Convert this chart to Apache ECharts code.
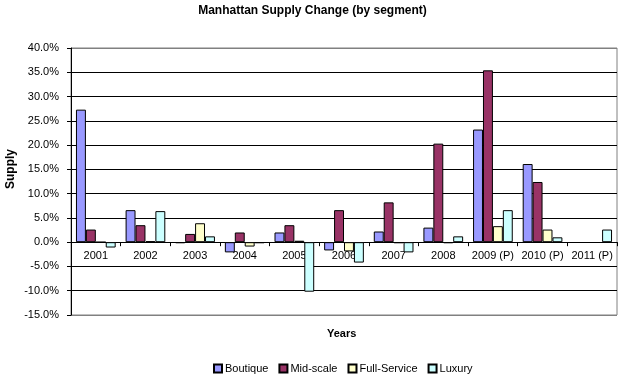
<!DOCTYPE html>
<html><head><meta charset="utf-8">
<script src="https://cdn.jsdelivr.net/npm/echarts@6/dist/echarts.min.js"></script>
<style>html,body{margin:0;padding:0;background:#fff}#c{width:625px;height:379px}</style>
</head><body><div id="c"></div>
<script>
const categories = ['2001','2002','2003','2004','2005','2006','2007','2008','2009 (P)','2010 (P)','2011 (P)'];
const boutique   = [27.3, 6.6, -0.2, -2.1, 2.0, -1.7, 2.2, 3.0, 23.2, 16.1, null];
const midScale   = [2.6, 3.5, 1.7, 2.0, 3.5, 6.6, 8.2, 20.3, 35.4, 12.4, null];
const fullService= [0.0, 0.2, 3.9, -0.9, 0.3, -1.9, -0.2, -0.2, 3.3, 2.6, null];
const luxury     = [-1.1, 6.4, 1.2, -0.2, -10.2, -4.2, -2.1, 1.2, 6.6, 1.0, 2.6];
const seriesNames = ['Boutique','Mid-scale','Full-Service','Luxury'];
const seriesColors = ['#9999FF','#993366','#FFFFCC','#CCFFFF'];
const seriesData = [boutique, midScale, fullService, luxury];
const yMin = -15, yMax = 40, yStep = 5;

const font = '"Liberation Sans", Arial, sans-serif';
const gridTop = 48, gridBottom = 64, chartH = 379;
const plotH = chartH - gridTop - gridBottom;
const zeroOffset = -plotH * (0 - yMin) / (yMax - yMin);

const chart = echarts.init(document.getElementById('c'), null, {renderer:'canvas'});
const gridColors = [];
const nLines = (yMax - yMin) / yStep;
for (let i = 0; i <= nLines; i++) gridColors.push(i === 0 || i === nLines ? '#808080' : '#000000');

chart.setOption({
  animation: false,
  textStyle: {fontFamily: font},
  title: {
    text: 'Manhattan Supply Change (by segment)',
    left: 'center', top: 0,
    textStyle: {fontFamily: font, fontSize: 12, fontWeight: 'bold', color: '#000'}
  },
  legend: {
    data: seriesNames, left: 208, top: 358,
    icon: 'rect', itemWidth: 8, itemHeight: 8, itemGap: 10,
    textStyle: {fontFamily: font, fontSize: 11, color: '#000', padding: [0,0,0,-2]}
  },
  grid: {left: 71, right: 8, top: gridTop, bottom: gridBottom, show: true, borderColor: '#808080', borderWidth: 1},
  graphic: [
    {type: 'text', left: 327, top: 328, style: {text: 'Years', font: 'bold 11px ' + font, fill: '#000'}},
    {type: 'text', x: 5, y: 189, rotation: Math.PI/2, style: {text: 'Supply', font: 'bold 12px ' + font, fill: '#000'}}
  ],
  xAxis: {
    type: 'category', data: categories,
    offset: zeroOffset,
    axisLine: {onZero: false, lineStyle: {color: '#000', width: 1}},
    axisTick: {show: true, length: 4, lineStyle: {color: '#000'}},
    axisLabel: {fontFamily: font, fontSize: 11, color: '#000', margin: 8, interval: 0},
    splitLine: {show: false}
  },
  yAxis: {
    type: 'value', min: yMin, max: yMax, interval: yStep,
    axisLine: {show: true, lineStyle: {color: '#000'}},
    axisTick: {show: true, length: 4, lineStyle: {color: '#000'}},
    axisLabel: {fontFamily: font, fontSize: 11, color: '#000', margin: 12,
      formatter: v => v.toFixed(1) + '%'},
    splitLine: {show: true, lineStyle: {color: gridColors, width: 1}}
  },
  series: seriesData.map((d, i) => ({
    name: seriesNames[i], type: 'bar', data: d,
    barGap: '0%', barCategoryGap: '20%',
    itemStyle: {color: seriesColors[i], borderColor: '#000', borderWidth: 1}
  }))
});
</script></body></html>
